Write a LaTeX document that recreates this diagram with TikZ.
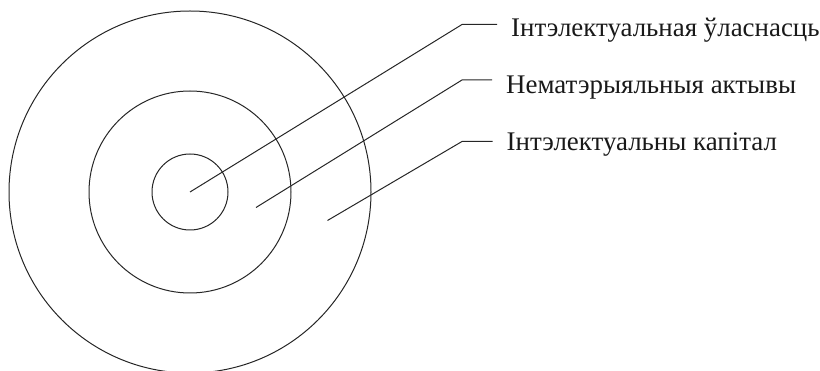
\documentclass[tikz,border=0pt]{standalone}
\usepackage{fontspec}
\setmainfont{Liberation Serif}
\usepackage{tikz}
\usetikzlibrary{calc}

\begin{document}
\begin{tikzpicture}[x=1pt, y=-1pt,
  ring/.style={line width=1pt, black!85},
  leader/.style={line width=1pt, black!85},
  label/.style={anchor=base west, inner xsep=14pt, inner ysep=0pt,
                font=\fontsize{26.9}{30}\selectfont, text=black!90}
]
  \useasboundingbox (0,0) rectangle (820,371);

  % Concentric rings
  \coordinate (c) at (190,192);
  \draw[ring] (c) circle[radius=181];
  \draw[ring] (c) circle[radius=101];
  \draw[ring] (c) circle[radius=38];

  % Start points of the leaders, one per ring
  \coordinate (p1) at (c);
  \coordinate (p2) at (256,207.5);
  \coordinate (p3) at (327.5,220.5);

  % Bends
  \coordinate (k1) at (462,24.5);
  \coordinate (k2) at (462,80);
  \coordinate (k3) at (462,141.5);

  % Labels
  \node[label] (t1) at (497,36.7) {Інтэлектуальная ўласнасць};
  \node[label] (t2) at (492,93.3) {Нематэрыяльныя актывы};
  \node[label] (t3) at (492.5,150.7) {Інтэлектуальны капітал};

  % Leaders
  \draw[leader] (p1) -- (k1) -- (k1 -| t1.west);
  \draw[leader] (p2) -- (k2) -- (k2 -| t2.west);
  \draw[leader] (p3) -- (k3) -- (k3 -| t3.west);
\end{tikzpicture}
\end{document}
